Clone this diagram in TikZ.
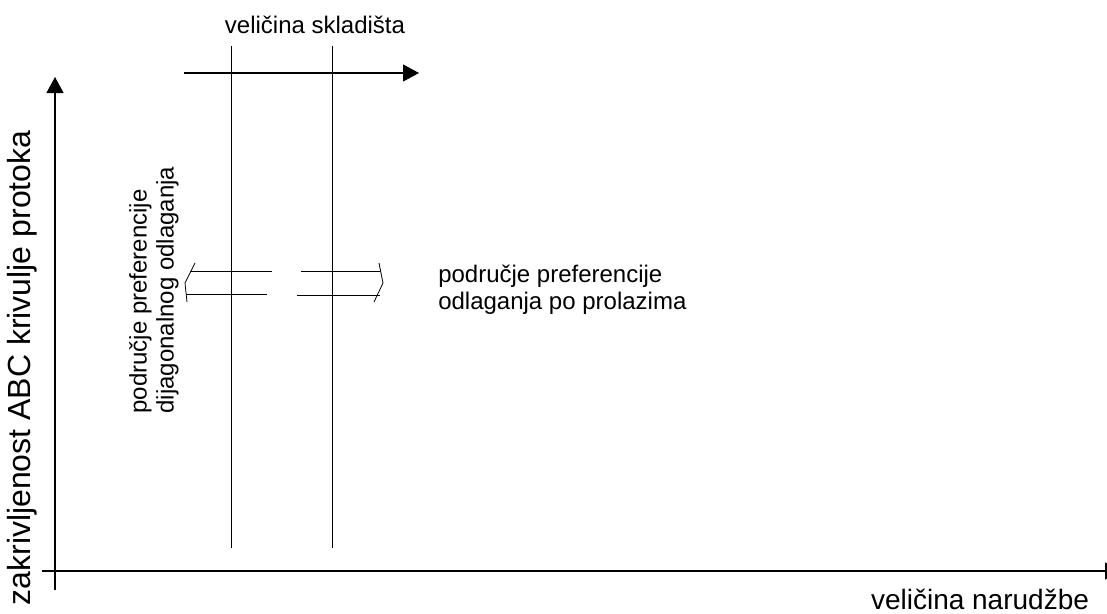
\documentclass[tikz,border=0pt]{standalone}
\usepackage{fontspec}
\setmainfont{Liberation Sans}
\usetikzlibrary{arrows.meta}
\begin{document}
\begin{tikzpicture}[x=0.75pt,y=-0.75pt,
  axis/.style={line width=0.9pt,-{Triangle[length=12pt,width=12.75pt]}},
  guide/.style={line width=0.75pt},
  dbl/.style={line width=0.6pt},
  lbl/.style={font=\fontsize{18}{20.25}\selectfont,inner sep=0pt},
  biglbl/.style={font=\fontsize{24}{27}\selectfont,inner sep=0pt}]
\useasboundingbox (0,0) rectangle (1107,614);
% axes
\coordinate (yfoot) at (55,590);
\coordinate (ytip) at (55,77);
\coordinate (xfoot) at (42,571);
\coordinate (xtip) at (1121,571);
\draw[axis] (yfoot) -- (ytip);
\draw[axis] (xfoot) -- (xtip);
\node[biglbl,rotate=90] (ylabel) at (22,368) {zakrivljenost ABC krivulje protoka};
\node[biglbl,font=\fontsize{21}{24}\selectfont] (xlabel) at (980,599) {veličina narudžbe};

% storage size
\coordinate (sfoot) at (184,73);
\coordinate (stip) at (419,73);
\draw[axis] (sfoot) -- (stip);
\node[lbl] (slabel) at (315,25) {veličina skladišta};
\coordinate (atop) at (231,46);
\coordinate (abot) at (231,548);
\coordinate (btop) at (332,46);
\coordinate (bbot) at (332,548);
\draw[guide] (atop) -- (abot);
\draw[guide] (btop) -- (bbot);

% left region
\coordinate (l1a) at (272,271);
\coordinate (l1b) at (190,271);
\coordinate (l2a) at (267,294);
\coordinate (l2b) at (186,294);
\draw[dbl] (l1a) -- (l1b);
\draw[dbl] (l2a) -- (l2b);
\draw[dbl] (195,263) -- (185,283) -- (187,302);
\node[lbl,rotate=90,align=left] (ldiag) at (154,290)
  {područje preferencije\\dijagonalnog odlaganja};

% right region
\coordinate (r1a) at (301,271);
\coordinate (r1b) at (380,271);
\coordinate (r2a) at (297,295);
\coordinate (r2b) at (380,295);
\draw[dbl] (r1a) -- (r1b);
\draw[dbl] (r2a) -- (r2b);
\draw[dbl] (379,263) -- (383,283) -- (374,302);
\node[lbl,align=left,anchor=west] (rpass) at (438,290)
  {područje preferencije\\odlaganja po prolazima};
\end{tikzpicture}
\end{document}
